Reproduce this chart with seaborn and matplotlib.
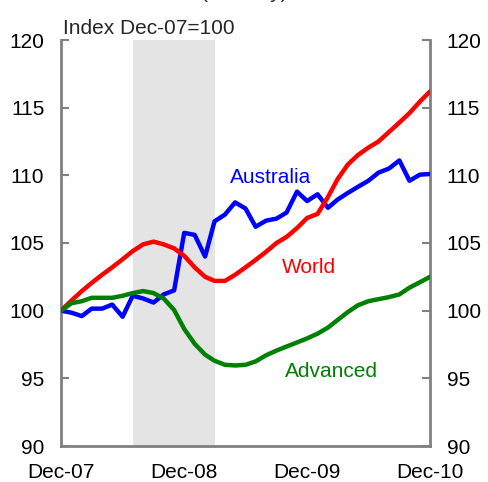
import pandas as pd
import numpy as np
import matplotlib
matplotlib.use('Agg')
import matplotlib.pyplot as plt
import seaborn as sns

sns.set_style("white")
plt.rcParams['font.family'] = ['Liberation Sans', 'DejaVu Sans']

# monthly index, Dec-07 = 100
dates = pd.date_range('2007-12-01', '2010-12-01', freq='MS')
australia = [100.0, 99.85, 99.6, 100.15, 100.15, 100.45, 99.55, 101.1, 100.9, 100.6,
             101.2, 101.5, 105.75, 105.6, 104.0, 106.6, 107.1, 108.0, 107.55, 106.2,
             106.65, 106.8, 107.25, 108.8, 108.1, 108.6, 107.6, 108.2, 108.7, 109.15,
             109.6, 110.2, 110.5, 111.1, 109.6, 110.05, 110.1]
world = [100.0, 100.75, 101.45, 102.05, 102.65, 103.2, 103.8, 104.4, 104.9, 105.1,
         104.9, 104.6, 104.05, 103.2, 102.5, 102.2, 102.2, 102.65, 103.2, 103.75,
         104.35, 105.0, 105.45, 106.1, 106.85, 107.15, 108.4, 109.7, 110.8, 111.5,
         112.05, 112.5, 113.2, 113.9, 114.6, 115.45, 116.2]
advanced = [100.0, 100.55, 100.7, 100.95, 100.95, 100.95, 101.1, 101.3, 101.45, 101.3,
            100.9, 100.05, 98.65, 97.55, 96.75, 96.3, 96.0, 95.95, 96.0, 96.25,
            96.7, 97.05, 97.35, 97.65, 97.95, 98.3, 98.75, 99.3, 99.9, 100.4,
            100.7, 100.85, 101.0, 101.2, 101.7, 102.1, 102.5]

series = ['Australia', 'World', 'Advanced']
colours = {'Australia': '#0000ff', 'World': '#ff0000', 'Advanced': '#008000'}
shade_start, shade_end = '2008-07-01', '2009-03-01'
xtick_dates = ['2007-12-01', '2008-12-01', '2009-12-01', '2010-12-01']
xtick_labels = ['Dec-07', 'Dec-08', 'Dec-09', 'Dec-10']
yticks = [90, 95, 100, 105, 110, 115, 120]

df = pd.DataFrame({'date': dates, 'Australia': australia, 'World': world, 'Advanced': advanced})
long = df.melt(id_vars='date', var_name='series', value_name='index')

fig = plt.figure(figsize=(4.89, 4.82), dpi=100)
ax = fig.add_axes([61 / 489, 36 / 482, 369 / 489, 406 / 482])

ax.axvspan(pd.Timestamp(shade_start), pd.Timestamp(shade_end), color='#e4e4e4', lw=0, zorder=0)
sns.lineplot(data=long, x='date', y='index', hue='series', hue_order=series,
             palette=colours, linewidth=3.2, legend=False, ax=ax, zorder=3)

ax.set_xlim(pd.Timestamp('2007-12-01'), pd.Timestamp('2010-12-01'))
ax.set_ylim(90, 120)
ax.set_xticks([pd.Timestamp(d) for d in xtick_dates])
ax.set_xticklabels(xtick_labels)
ax.set_yticks(yticks)
ax.set_xlabel('')
ax.set_ylabel('')

grey = '#808080'
for side in ['left', 'right', 'bottom']:
    ax.spines[side].set_color(grey)
    ax.spines[side].set_linewidth(2)
ax.spines['top'].set_visible(False)

ax.tick_params(axis='both', direction='in', length=6, width=1.5, color=grey,
               labelsize=15, labelcolor='black')
ax.tick_params(axis='x', pad=12)
ax.tick_params(axis='y', pad=12, right=True, labelright=True, left=True)

ax.text(0.005, 1.015, 'Index Dec-07=100', transform=ax.transAxes, fontsize=15,
        ha='left', va='baseline')

ax.text(pd.Timestamp('2009-04-15'), 109.46, 'Australia', color=colours['Australia'],
        fontsize=15, ha='left', va='baseline')
ax.text(pd.Timestamp('2009-09-18'), 102.8, 'World', color=colours['World'],
        fontsize=15, ha='left', va='baseline')
ax.text(pd.Timestamp('2009-09-26'), 95.12, 'Advanced', color=colours['Advanced'],
        fontsize=15, ha='left', va='baseline')

# title sits mostly above the top edge, as in the source crop
fig.text(245 / 489, 1 + 2 / 482, '(monthly)', fontsize=15, ha='center', va='baseline')

fig.savefig('out.png', dpi=100)
